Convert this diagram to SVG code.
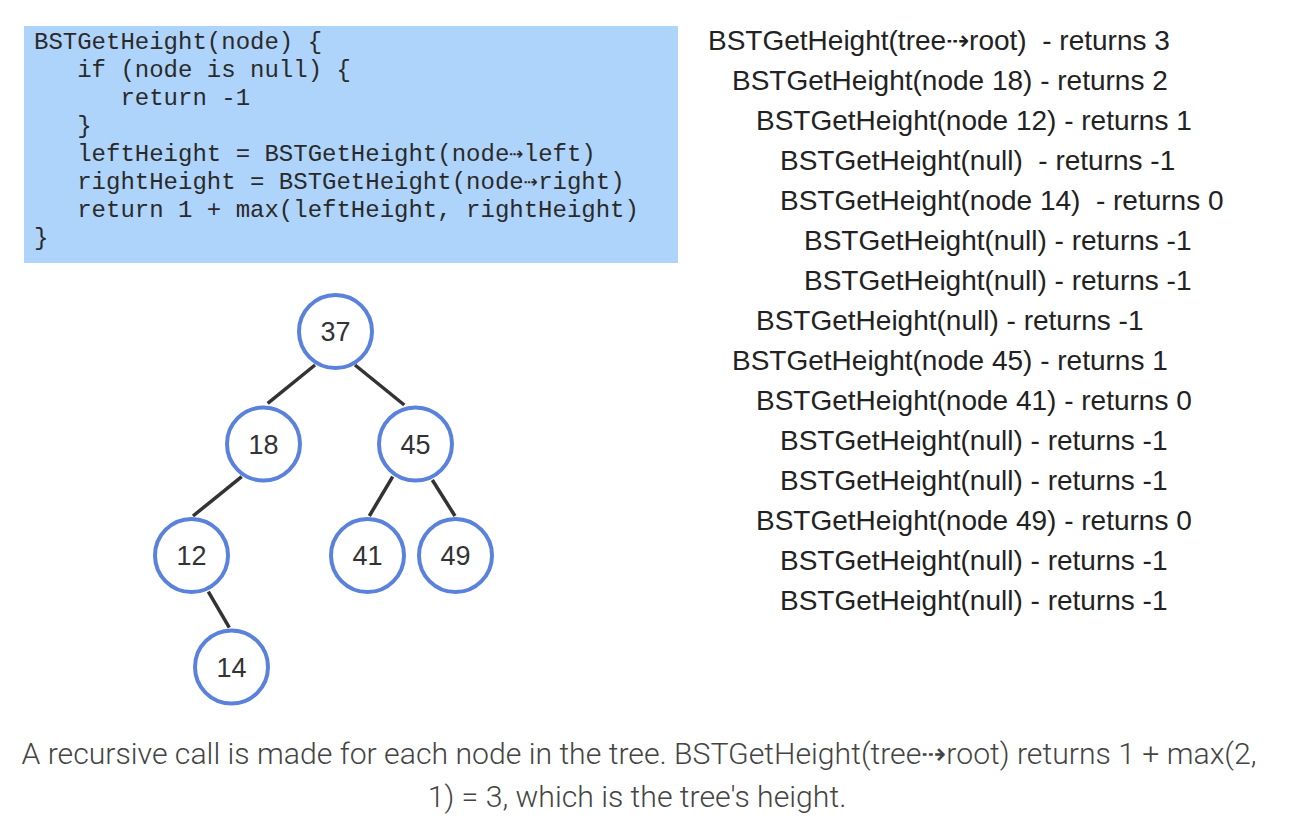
<svg xmlns="http://www.w3.org/2000/svg" width="1298" height="824" viewBox="0 0 1298 824">
<style>
.code{font-family:"Liberation Mono","Courier New",monospace;font-size:24px;fill:#2a2a2a;white-space:pre}
.call{font-family:"Liberation Sans",Arial,Helvetica,sans-serif;font-size:28px;fill:#222;white-space:pre}
.node circle{fill:#fff;stroke:#5a82dc;stroke-width:4}
.node text{font-family:"Liberation Sans",Arial,sans-serif;font-size:27px;fill:#333;text-anchor:middle}
.edges line{stroke:#333;stroke-width:3.5}
.cap{font-family:Roboto,"Liberation Sans",sans-serif;font-weight:300;font-size:30.2px;fill:#444;text-anchor:middle}
</style>
<rect width="1298" height="824" fill="#fff"/>
<g id="code">
<rect x="24" y="26" width="654" height="237" fill="#afd4fb"/>
<text class="code" x="34" y="49">BSTGetHeight(node) {</text>
<text class="code" x="34" y="77">   if (node is null) {</text>
<text class="code" x="34" y="105">      return -1</text>
<text class="code" x="34" y="133">   }</text>
<text class="code" x="34" y="161">   leftHeight = BSTGetHeight(node⇢left)</text>
<text class="code" x="34" y="189">   rightHeight = BSTGetHeight(node⇢right)</text>
<text class="code" x="34" y="217">   return 1 + max(leftHeight, rightHeight)</text>
<text class="code" x="34" y="245">}</text>
</g>
<g id="calls">
<text class="call" x="708" y="49.5">BSTGetHeight(tree⇢root)  - returns 3</text>
<text class="call" x="732" y="89.5">BSTGetHeight(node 18) - returns 2</text>
<text class="call" x="756" y="129.5">BSTGetHeight(node 12) - returns 1</text>
<text class="call" x="780" y="169.5">BSTGetHeight(null)  - returns -1</text>
<text class="call" x="780" y="209.5">BSTGetHeight(node 14)  - returns 0</text>
<text class="call" x="804" y="249.5">BSTGetHeight(null) - returns -1</text>
<text class="call" x="804" y="289.5">BSTGetHeight(null) - returns -1</text>
<text class="call" x="756" y="329.5">BSTGetHeight(null) - returns -1</text>
<text class="call" x="732" y="369.5">BSTGetHeight(node 45) - returns 1</text>
<text class="call" x="756" y="409.5">BSTGetHeight(node 41) - returns 0</text>
<text class="call" x="780" y="449.5">BSTGetHeight(null) - returns -1</text>
<text class="call" x="780" y="489.5">BSTGetHeight(null) - returns -1</text>
<text class="call" x="756" y="529.5">BSTGetHeight(node 49) - returns 0</text>
<text class="call" x="780" y="569.5">BSTGetHeight(null) - returns -1</text>
<text class="call" x="780" y="609.5">BSTGetHeight(null) - returns -1</text>
</g>
<g id="connectors" class="edges">
<line x1="315" y1="365" x2="267.7" y2="403.3"/>
<line x1="355" y1="365" x2="404.3" y2="405"/>
<line x1="241.7" y1="476.7" x2="193" y2="516"/>
<line x1="392.7" y1="476.7" x2="369.3" y2="516"/>
<line x1="432.3" y1="480" x2="455" y2="516"/>
<line x1="208.3" y1="591.7" x2="229.3" y2="627.7"/>
</g>
<g id="n37" class="node"><circle cx="335.5" cy="331.5" r="36.5"/><text x="335.5" y="341">37</text></g>
<g id="n18" class="node"><circle cx="263.5" cy="444" r="36.5"/><text x="263.5" y="453.5">18</text></g>
<g id="n45" class="node"><circle cx="415.5" cy="444" r="36.5"/><text x="415.5" y="453.5">45</text></g>
<g id="n12" class="node"><circle cx="191.5" cy="555.5" r="36.5"/><text x="191.5" y="565">12</text></g>
<g id="n41" class="node"><circle cx="367.5" cy="555.5" r="36.5"/><text x="367.5" y="565">41</text></g>
<g id="n49" class="node"><circle cx="455.5" cy="555.5" r="36.5"/><text x="455.5" y="565">49</text></g>
<g id="n14" class="node"><circle cx="231.5" cy="667" r="36.5"/><text x="231.5" y="676.5">14</text></g>
<g id="caption">
<text class="cap" x="639" y="764">A recursive call is made for each node in the tree. BSTGetHeight(tree⇢root) returns 1 + max(2,</text>
<text class="cap" x="637" y="807">1) = 3, which is the tree's height.</text>
</g>
</svg>
